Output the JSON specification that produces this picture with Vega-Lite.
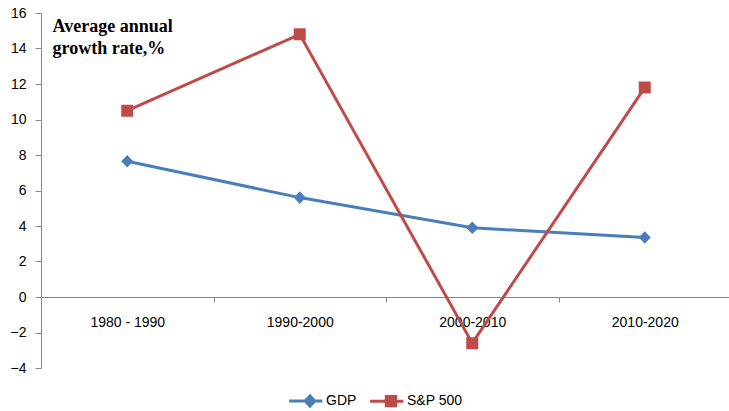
{
  "$schema": "https://vega.github.io/schema/vega-lite/v6.json",
  "width": 690,
  "height": 355,
  "autosize": {"type": "none"},
  "padding": {"left": 41, "top": 13, "right": 0, "bottom": 43},
  "background": "white",
  "config": {"view": {"stroke": null}, "font": "Liberation Sans"},
  "data": {
    "values": [
      {"period": "1980 - 1990", "series": "GDP", "value": 7.65},
      {"period": "1990-2000", "series": "GDP", "value": 5.6},
      {"period": "2000-2010", "series": "GDP", "value": 3.9},
      {"period": "2010-2020", "series": "GDP", "value": 3.35},
      {"period": "1980 - 1990", "series": "S&P 500", "value": 10.5},
      {"period": "1990-2000", "series": "S&P 500", "value": 14.8},
      {"period": "2000-2010", "series": "S&P 500", "value": -2.6},
      {"period": "2010-2020", "series": "S&P 500", "value": 11.8}
    ]
  },
  "encoding": {
    "x": {
      "field": "period",
      "type": "nominal",
      "sort": null,
      "scale": {"type": "point", "padding": 0.5},
      "axis": {
        "title": null,
        "orient": "bottom",
        "offset": -71,
        "domainColor": "#868686",
        "tickColor": "#868686",
        "tickSize": 5,
        "tickOffset": 86.25,
        "labelOffset": -86.25,
        "labelAngle": 0,
        "labelPadding": 13,
        "labelFontSize": 14,
        "labelColor": "#000000",
        "grid": false
      }
    },
    "y": {
      "field": "value",
      "type": "quantitative",
      "scale": {"domain": [-4, 16], "nice": false},
      "axis": {
        "values": [-4, -2, 0, 2, 4, 6, 8, 10, 12, 14, 16],
        "grid": false,
        "domainColor": "#868686",
        "tickColor": "#868686",
        "tickSize": 6,
        "labelPadding": 9,
        "labelFontSize": 14,
        "labelColor": "#000000",
        "title": ["Average annual", " growth rate,%"],
        "titleAngle": 0,
        "titleAlign": "left",
        "titleBaseline": "alphabetic",
        "titleX": 11,
        "titleY": 18,
        "titleFont": "Liberation Serif",
        "titleFontSize": 18,
        "titleFontWeight": "bold",
        "titleLineHeight": 22,
        "titleColor": "#000000"
      }
    },
    "color": {
      "field": "series",
      "type": "nominal",
      "scale": {"domain": ["GDP", "S&P 500"], "range": ["#4A7EBB", "#BE4B48"]},
      "legend": {
        "title": null,
        "orient": "none",
        "direction": "horizontal",
        "legendX": 262,
        "legendY": 381,
        "labelFontSize": 14,
        "labelColor": "#000000",
        "labelOffset": 9,
        "columnPadding": 7,
        "symbolSize": 90,
        "symbolStrokeWidth": 3,
        "encode": {
          "symbols": {
            "update": {
              "stroke": {"scale": "color", "field": "value"},
              "strokeWidth": {"value": 3},
              "fill": {"scale": "color", "field": "value"},
              "opacity": {"value": 1}
            }
          }
        }
      }
    }
  },
  "layer": [
    {
      "mark": {"type": "line", "strokeWidth": 3}
    },
    {
      "mark": {"type": "point", "filled": true, "opacity": 1, "strokeWidth": 0, "size": 144},
      "encoding": {
        "shape": {
          "field": "series",
          "type": "nominal",
          "scale": {
            "domain": ["GDP", "S&P 500"],
            "range": ["M-4.4,0H2.6M0,-1.05L1,0L0,1.05L-1,0Z", "M-4.4,0H2.6M-1,-1H1V1H-1Z"]
          }
        }
      }
    }
  ]
}
